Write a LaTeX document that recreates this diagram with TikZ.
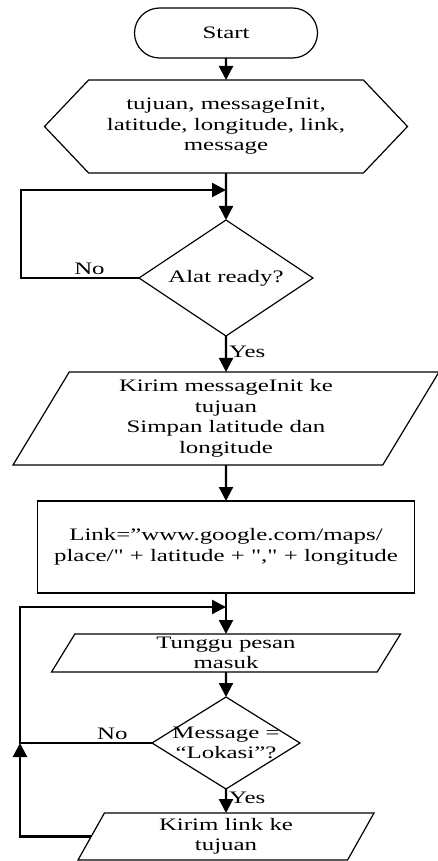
\documentclass[tikz,border=0pt]{standalone}
\usepackage{fontspec}
\setmainfont{Liberation Serif}[FakeStretch=1.42, Ligatures=TeXOff]
\usepackage{tikz}
\usetikzlibrary{shapes.geometric,shapes.misc,shapes.symbols}
\usetikzlibrary{arrows.meta,positioning}
\tikzset{flow node/.style={draw=black, line width=1.2pt, align=center,
    inner sep=0pt, outer sep=0pt, font=\fontsize{17.5}{20.5}\selectfont}}
\tikzset{start node/.style={flow node, rounded rectangle}}
\tikzset{prep node/.style={flow node, signal, signal to=west and east, signal pointer angle=93}}
\tikzset{io node/.style={flow node, trapezium, trapezium left angle=54, trapezium right angle=126,
    trapezium stretches body}}
\tikzset{process node/.style={flow node, rectangle}}
\tikzset{decision node/.style={flow node, diamond}}
\tikzset{flow edge/.style={draw=black, line width=2.2pt, -{Triangle[length=14pt,width=14pt]}}}
\tikzset{edge label/.style={font=\fontsize{17.5}{20.5}\selectfont, inner sep=2pt}}

\begin{document}
\begin{tikzpicture}
  [x=1pt, y=-1pt]
  \useasboundingbox (0,0) rectangle (438,861);

  \node [start node, minimum width=183, minimum height=50]                (start)     at (226,  33.0) {Start};
  \node [prep node, minimum width=363, minimum height=93]                 (vars)      at (226, 126.5) {tujuan, messageInit,\\latitude, longitude, link,\\message};
  \node [decision node, minimum width=174, minimum height=116, aspect=1.5] (ready)     at (226, 278.0) {Alat ready?};
  \node [io node, minimum width=426, minimum height=93]                   (kirim)     at (226, 418.5) {Kirim messageInit ke\\tujuan\\Simpan latitude dan\\longitude};
  \node [process node, minimum width=377, minimum height=92]              (link)      at (226, 547.0) {Link=”www.google.com/maps/\\place/" + latitude + "," + longitude};
  \node [io node, minimum width=349, minimum height=38]                   (tunggu)    at (226, 653.0) {Tunggu pesan\\masuk};
  \node [decision node, minimum width=148, minimum height=92,
         label={[edge label, align=center]center:Message =\\“Lokasi”?}]  (lokasi)    at (226, 743.0) {};
  \node [io node, minimum width=296, minimum height=47]                   (kirimlink) at (226, 836.5) {Kirim link ke\\tujuan};

  \coordinate (ready loop)  at ( 21, 278);
  \coordinate (ready join)  at (226, 190);
  \coordinate (lokasi loop) at ( 20, 743);
  \coordinate (tunggu join) at (226, 607);

  \draw [flow edge] (start)              to                                              (vars);
  \draw [flow edge] (vars)               to                                              (ready);
  \draw [flow edge] (ready)              to node [edge label, right, pos=0.45] {Yes}     (kirim);
  \draw [flow edge] (kirim)              to                                              (link);
  \draw [flow edge] (link)               to                                              (tunggu);
  \draw [flow edge] (tunggu)             to                                              (lokasi);
  \draw [flow edge] (lokasi)             to node [edge label, right, pos=0.35] {Yes}     (kirimlink);
  \draw [flow edge] (ready.west)         -- node [edge label, above, pos=0.42] {No}      (ready loop) |- (ready join);
  \draw [flow edge] (lokasi.west)        -- node [edge label, above, pos=0.30] {No}      (lokasi loop) |- (tunggu join);
  \draw [flow edge] (kirimlink.left side) -|                                             (lokasi loop);
\end{tikzpicture}
\end{document}
